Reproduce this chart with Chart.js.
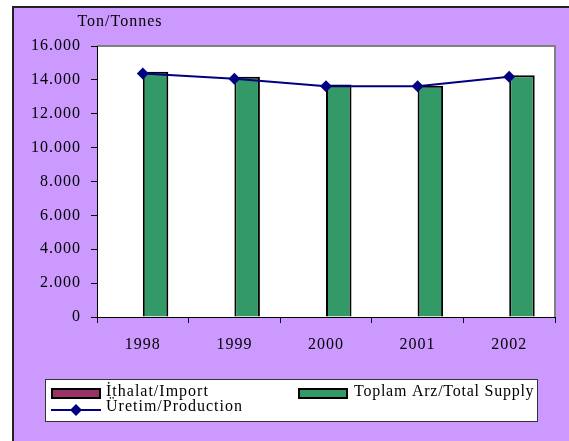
<!DOCTYPE html>
<html>
<head>
<meta charset="utf-8">
<script src="https://cdn.jsdelivr.net/npm/chart.js@4"></script>
<style>
  html, body { margin: 0; padding: 0; background: #fff; }
  #wrap { width: 569px; height: 441px; }
</style>
</head>
<body>
<div id="wrap"><canvas id="chart" width="569" height="441"></canvas></div>
<script>
const years = ["1998", "1999", "2000", "2001", "2002"]
const importValues = [0, 0, 0, 0, 0]
const supplyValues = [14480, 14180, 13730, 13650, 14280]
const productionValues = [14380, 14060, 13630, 13630, 14180]
const yTicks = [0, 2000, 4000, 6000, 8000, 10000, 12000, 14000, 16000]

const serif = "'Liberation Serif', 'Times New Roman', serif"

const fmt = (v) => v === 0 ? "0" : v.toLocaleString("de-DE")

// purple page background, white plot area and legend box
const frame = {
    id: "frame",
    beforeInit(chart) {
        chart.ctx.letterSpacing = "1px"
    },
    beforeDraw(chart) {
        const ctx = chart.ctx
        ctx.letterSpacing = "1px"
        ctx.save()
        ctx.fillStyle = "#fff"
        ctx.fillRect(0, 0, chart.width, chart.height)
        ctx.fillStyle = "#cc99ff"
        ctx.fillRect(12, 6, chart.width - 12, chart.height - 6)
        ctx.strokeStyle = "#222"
        ctx.lineWidth = 2
        ctx.beginPath()
        ctx.moveTo(13, chart.height)
        ctx.lineTo(13, 7)
        ctx.lineTo(chart.width, 7)
        ctx.stroke()
        const a = chart.chartArea
        ctx.fillStyle = "#fff"
        ctx.fillRect(a.left, a.top, a.right - a.left, a.bottom - a.top)
        ctx.strokeStyle = "#808080"
        ctx.beginPath()
        ctx.moveTo(a.left, a.top)
        ctx.lineTo(a.right, a.top)
        ctx.lineTo(a.right, a.bottom)
        ctx.stroke()
        ctx.fillStyle = "#000"
        ctx.font = "16px " + serif
        ctx.textAlign = "center"
        ctx.textBaseline = "middle"
        ctx.fillText("Ton/Tonnes", 120, 22)
        ctx.restore()
    },
    afterDraw(chart) {
        const ctx = chart.ctx
        const ds = chart.data.datasets
        ctx.save()
        ctx.fillStyle = "#fff"
        ctx.fillRect(46, 379, 492, 42)
        ctx.strokeStyle = "#333"
        ctx.lineWidth = 1
        ctx.strokeRect(45.5, 379.5, 492, 42)

        const swatch = (x, y, d) => {
            ctx.fillStyle = d.backgroundColor
            ctx.fillRect(x, y, 48, 9)
            ctx.strokeStyle = "#000"
            ctx.lineWidth = 2
            ctx.strokeRect(x, y, 48, 9)
        }
        const imp = ds.find((d) => d.label === "İthalat/Import")
        const sup = ds.find((d) => d.label === "Toplam Arz/Total Supply")
        const prod = ds.find((d) => d.label === "Üretim/Production")
        swatch(52, 389, imp)
        swatch(299, 389, sup)

        ctx.strokeStyle = prod.borderColor
        ctx.lineWidth = 2
        ctx.beginPath()
        ctx.moveTo(51, 410)
        ctx.lineTo(101, 410)
        ctx.stroke()
        ctx.fillStyle = prod.borderColor
        ctx.beginPath()
        ctx.moveTo(76, 404)
        ctx.lineTo(82, 410)
        ctx.lineTo(76, 416)
        ctx.lineTo(70, 410)
        ctx.closePath()
        ctx.fill()

        ctx.fillStyle = "#000"
        ctx.font = "16px " + serif
        ctx.textBaseline = "middle"
        ctx.textAlign = "left"
        ctx.fillText(imp.label, 106, 392)
        ctx.fillText(prod.label, 106, 407)
        ctx.letterSpacing = "0.75px"
        ctx.fillText(sup.label, 354, 392)
        ctx.restore()
    }
}

const data = {
    labels: years,
    datasets: [
        {
            type: "line",
            label: "Üretim/Production",
            data: productionValues,
            borderColor: "#000080",
            backgroundColor: "#000080",
            borderWidth: 2,
            pointStyle: "rectRot",
            pointRadius: 6,
            pointBorderWidth: 0,
            tension: 0,
            order: 0
        },
        {
            type: "bar",
            label: "İthalat/Import",
            data: importValues,
            backgroundColor: "#993366",
            borderColor: "#000",
            borderWidth: 2,
            order: 1
        },
        {
            type: "bar",
            label: "Toplam Arz/Total Supply",
            data: supplyValues,
            backgroundColor: "#339966",
            borderColor: "#000",
            borderWidth: 2,
            order: 1
        }
    ]
}

new Chart(document.querySelector("#chart"), {
    type: "bar",
    data: data,
    plugins: [frame],
    options: {
        responsive: false,
        animation: false,
        categoryPercentage: 0.557,
        barPercentage: 1,
        layout: { padding: { top: 46, right: 14, bottom: 84, left: 0 } },
        plugins: {
            legend: { display: false },
            tooltip: { enabled: false }
        },
        scales: {
            x: {
                offset: true,
                afterFit: (s) => { s.height = 40 },
                grid: { offset: true, drawOnChartArea: false, drawTicks: true, tickLength: 6, color: "#000" },
                border: { display: true, color: "#000", width: 1 },
                ticks: { color: "#000", font: { family: serif, size: 16 }, padding: 12 }
            },
            y: {
                min: 0,
                max: 16000,
                afterFit: (s) => { s.width = 97 },
                afterBuildTicks: (s) => { s.ticks = yTicks.map((v) => ({ value: v })) },
                grid: { drawOnChartArea: false, drawTicks: true, tickLength: 6, color: "#000" },
                border: { display: true, color: "#000", width: 1 },
                ticks: { color: "#000", font: { family: serif, size: 16 }, padding: 10, callback: (v) => fmt(v) }
            }
        }
    }
})
</script>
</body>
</html>
